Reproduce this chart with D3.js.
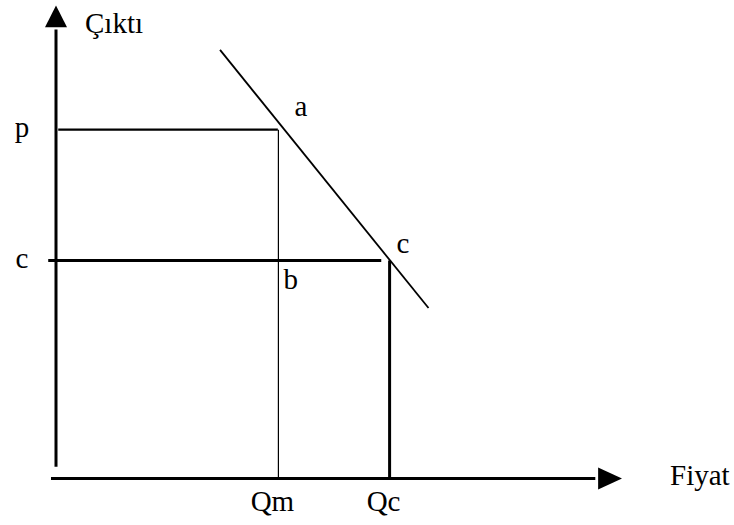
<!DOCTYPE html>
<html>
<head>
<meta charset="utf-8">
<script src="https://cdn.jsdelivr.net/npm/d3@7"></script>
<style>
    body { margin: 0; background: #fff; }
    svg { display: block; }
    text { font-family: 'Liberation Serif', 'DejaVu Serif', serif; font-size: 29px; fill: #000; }
</style>
</head>
<body>
<div id="chart"></div>
<script>
// Data
const quantityTicks = [{ label: 'Qm', value: 4 }, { label: 'Qc', value: 6 }]
const priceTicks = [{ label: 'p', value: 8 }, { label: 'c', value: 5 }]
const demandLine = [[2.95, 9.83], [6.7, 3.91]]
const pointLabels = [
    { label: 'a', q: 4, p: 8 },
    { label: 'b', q: 4, p: 5 },
    { label: 'c', q: 6, p: 5 }
]
const axisTitles = { y: 'Çıktı', x: 'Fiyat' }

const width = 734
const height = 525

const svg = d3.select('#chart').append('svg')
    .attr('width', width)
    .attr('height', height)

// Scale
const x = d3.scaleLinear().domain([0, 10]).range([56, 612])
const y = d3.scaleLinear().domain([0, 10]).range([478.5, 42.5])

const line = d3.line().x(d => x(d[0])).y(d => y(d[1]))

// Axes (drawn as plain arrows)
svg.append('line')
    .attr('x1', x(0)).attr('x2', x(0))
    .attr('y1', y(0.27)).attr('y2', y(10.3))
    .attr('stroke', '#000').attr('stroke-width', 3)
svg.append('path')
    .attr('d', `M${x(0)},${y(10.85)} L${x(0) - 11},${y(10.35)} L${x(0) + 11},${y(10.35)} Z`)
    .attr('fill', '#000')

svg.append('line')
    .attr('x1', x(-0.09)).attr('x2', x(9.7))
    .attr('y1', y(0)).attr('y2', y(0))
    .attr('stroke', '#000').attr('stroke-width', 3)
svg.append('path')
    .attr('d', `M${x(10.18)},${y(0)} L${x(9.75)},${y(0) - 11} L${x(9.75)},${y(0) + 11} Z`)
    .attr('fill', '#000')

// Monopoly price level and quantity
const pVal = priceTicks[0].value
const cVal = priceTicks[1].value
const qm = quantityTicks[0].value
const qc = quantityTicks[1].value

svg.append('line')
    .attr('x1', x(0.04)).attr('x2', x(qm - 0.01))
    .attr('y1', y(pVal)).attr('y2', y(pVal))
    .attr('stroke', '#000').attr('stroke-width', 2.2)
svg.append('line')
    .attr('x1', x(qm)).attr('x2', x(qm))
    .attr('y1', y(pVal)).attr('y2', y(0))
    .attr('stroke', '#000').attr('stroke-width', 1.2)

// Competitive price level and quantity
svg.append('line')
    .attr('x1', x(-0.14)).attr('x2', x(5.85))
    .attr('y1', y(cVal)).attr('y2', y(cVal))
    .attr('stroke', '#000').attr('stroke-width', 2.8)
svg.append('line')
    .attr('x1', x(qc)).attr('x2', x(qc))
    .attr('y1', y(cVal)).attr('y2', y(0))
    .attr('stroke', '#000').attr('stroke-width', 3)

// Demand line
svg.append('path')
    .datum(demandLine)
    .attr('d', line)
    .attr('fill', 'none')
    .attr('stroke', '#000')
    .attr('stroke-width', 1.8)

// Tick labels
svg.selectAll('text.qtick')
    .data(quantityTicks)
    .join('text')
    .attr('class', 'qtick')
    .attr('x', d => x(d.value) - 6)
    .attr('y', 511)
    .attr('text-anchor', 'middle')
    .text(d => d.label)

svg.selectAll('text.ptick')
    .data(priceTicks)
    .join('text')
    .attr('class', 'ptick')
    .attr('x', 22)
    .attr('y', d => y(d.value) + 7)
    .attr('text-anchor', 'middle')
    .text(d => d.label)

// Point labels
const labelOffset = { a: [16, -14], b: [5, 28], c: [7, -8] }
svg.selectAll('text.point')
    .data(pointLabels)
    .join('text')
    .attr('class', 'point')
    .attr('x', d => x(d.q) + labelOffset[d.label][0])
    .attr('y', d => y(d.p) + labelOffset[d.label][1])
    .text(d => d.label)

// Axis titles
svg.append('text')
    .attr('x', 85)
    .attr('y', 33)
    .text(axisTitles.y)
svg.append('text')
    .attr('x', 670)
    .attr('y', 485)
    .text(axisTitles.x)
</script>
</body>
</html>
